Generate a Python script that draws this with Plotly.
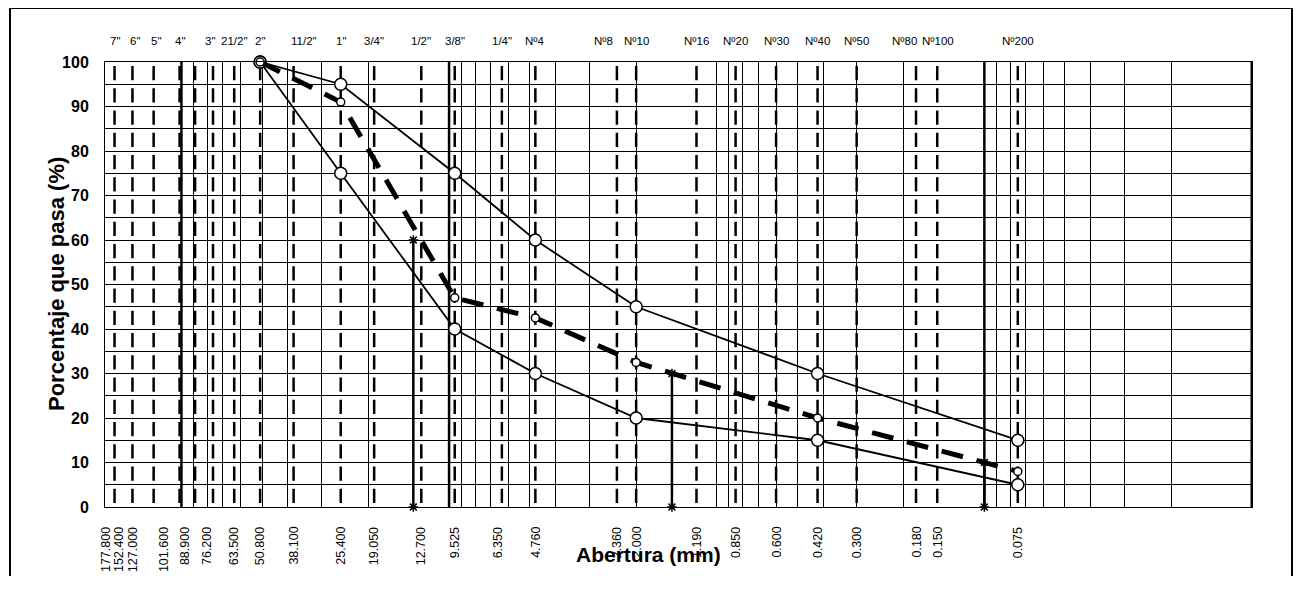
import math
import plotly.graph_objects as go

# tamices (mm) y sus nombres
tamices_mm = [177.8, 152.4, 127.0, 101.6, 88.9, 76.2, 63.5, 50.8, 38.1, 25.4,
              19.05, 12.7, 9.525, 6.35, 4.76, 2.36, 2.0, 1.19, 0.85, 0.6,
              0.42, 0.3, 0.18, 0.15, 0.075]
tamices_nombre = ['7"', '6"', '5"', '4"', '', '3"', '21/2"', '2"', '11/2"', '1"',
                  '3/4"', '1/2"', '3/8"', '1/4"', 'Nº4', 'Nº8', 'Nº10', 'Nº16',
                  'Nº20', 'Nº30', 'Nº40', 'Nº50', 'Nº80', 'Nº100', 'Nº200']

# huso granulometrico
huso_mm = [50.8, 25.4, 9.525, 4.76, 2.0, 0.42, 0.075]
huso_sup = [100, 95, 75, 60, 45, 30, 15]
huso_inf = [100, 75, 40, 30, 20, 15, 5]

# muestra
muestra_mm = [50.8, 25.4, 9.525, 4.76, 2.0, 0.42, 0.075]
muestra_pasa = [100, 91, 47, 42.5, 32.5, 20, 8]

# D60, D30, D10
d_mm = [13.6, 1.47, 0.1]
d_pasa = [60, 30, 10]

# grilla logaritmica
grilla_x = [m * 10 ** e for e in range(-2, 3) for m in range(1, 10)
            if 0.01 <= m * 10 ** e <= 193]
decadas_gruesas = [100, 10, 0.1]

# la pagina tiene 8px de margen en el body (y se evita la barra de scroll)
OFF = 8
L, R, T = 105 - OFF, 50, 62 - OFF
W, H = 1302 - OFF, 568
B = H + OFF - 507
pw, ph = W - L - R, H - T - B


def px_x(p):
    return (p - OFF - L) / pw


def px_y(p):
    return (H + OFF - B - p) / ph


fig = go.Figure()

for d, p in zip(d_mm, d_pasa):
    fig.add_trace(go.Scatter(
        x=[d, d], y=[0, p], mode="lines+markers", cliponaxis=False,
        line=dict(color="black", width=2.5),
        marker=dict(symbol="asterisk-open", size=8, line=dict(color="black", width=1.5)),
        showlegend=False, hoverinfo="skip"
    ))

for y_vals in (huso_sup, huso_inf):
    fig.add_trace(go.Scatter(
        x=huso_mm, y=y_vals, mode="lines+markers", cliponaxis=False,
        line=dict(color="black", width=1.8),
        marker=dict(symbol="circle", size=12, color="white", line=dict(color="black", width=1.5)),
        showlegend=False
    ))

fig.add_trace(go.Scatter(
    x=muestra_mm, y=muestra_pasa, mode="lines+markers", cliponaxis=False,
    line=dict(color="black", width=5, dash="22px,14px"),
    marker=dict(symbol="circle", size=8, color="white", line=dict(color="black", width=1.5)),
    showlegend=False
))

shapes = []
for s in tamices_mm:
    shapes.append(dict(type="line", xref="x", yref="y", x0=s, x1=s, y0=0, y1=100,
                       line=dict(color="black", width=2.5, dash="0px,4px,14.25px,4px"),
                       layer="between"))
for s in decadas_gruesas:
    shapes.append(dict(type="line", xref="x", yref="y", x0=s, x1=s, y0=0, y1=100,
                       line=dict(color="black", width=2.5), layer="between"))
shapes.append(dict(type="line", xref="x", yref="y", x0=0.01, x1=0.01, y0=0, y1=100,
                   line=dict(color="black", width=3), layer="between"))
# marco exterior
MARCO_DER = 1292
shapes.append(dict(type="line", xref="paper", yref="paper",
                   x0=px_x(10), x1=px_x(MARCO_DER), y0=px_y(8), y1=px_y(8),
                   line=dict(color="black", width=2)))
shapes.append(dict(type="line", xref="paper", yref="paper",
                   x0=px_x(10), x1=px_x(10), y0=px_y(8), y1=px_y(600),
                   line=dict(color="black", width=2)))
shapes.append(dict(type="line", xref="paper", yref="paper",
                   x0=px_x(MARCO_DER), x1=px_x(MARCO_DER), y0=px_y(8), y1=px_y(600),
                   line=dict(color="black", width=2)))

# corrimientos de etiquetas que quedan juntas
corr_sup = {'Nº8': -13, 'Nº80': -12, 'Nº100': 1, '11/2"': 10, '6"': 3, '5"': 2, '3"': -3}
corr_inf = {177.8: -9, 152.4: -14, 127.0: -21, 101.6: -16, 88.9: -10, 76.2: -6, 6.35: -4}

annotations = []
for s, n in zip(tamices_mm, tamices_nombre):
    if n:
        annotations.append(dict(x=math.log10(s), xref="x", y=px_y(41), yref="paper",
                                text=n, showarrow=False, xanchor="center", yanchor="middle",
                                xshift=corr_sup.get(n, 0),
                                font=dict(size=11.5, color="black")))
    annotations.append(dict(x=math.log10(s), xref="x", y=px_y(525), yref="paper",
                            text=f"{s:.3f}", showarrow=False, textangle=-90,
                            xanchor="center", yanchor="top",
                            xshift=corr_inf.get(s, 0),
                            font=dict(size=12.5, color="black")))
annotations.append(dict(x=px_x(648), xref="paper", y=px_y(568), yref="paper",
                        text="<b>Abertura (mm)</b>", showarrow=False,
                        font=dict(size=21, color="black")))
annotations.append(dict(x=px_x(42), xref="paper", y=0.5, yref="paper",
                        text="<b>Porcentaje que pasa (%)</b>", showarrow=False,
                        textangle=-90, font=dict(size=22, color="black")))

fig.update_layout(
    width=W, height=H,
    margin=dict(l=L, r=R, t=T, b=B),
    paper_bgcolor="white", plot_bgcolor="white",
    font=dict(family="Arial, Liberation Sans", color="black"),
    shapes=shapes, annotations=annotations,
    xaxis=dict(type="log", range=[math.log10(193), -2],
               tickvals=grilla_x, showticklabels=False, ticks="",
               showgrid=True, gridcolor="black", gridwidth=1,
               showline=True, linecolor="black", linewidth=1, mirror=True,
               zeroline=False),
    yaxis=dict(range=[0, 100], tickvals=list(range(0, 101, 10)),
               showgrid=True, gridcolor="black", gridwidth=1,
               minor=dict(dtick=5, showgrid=True, gridcolor="black", gridwidth=1),
               ticks="", ticklabelstandoff=12,
               tickfont=dict(size=16, weight="bold", color="black"),
               showline=True, linecolor="black", linewidth=1, mirror=True,
               zeroline=False),
)

fig.write_html("out.html")
